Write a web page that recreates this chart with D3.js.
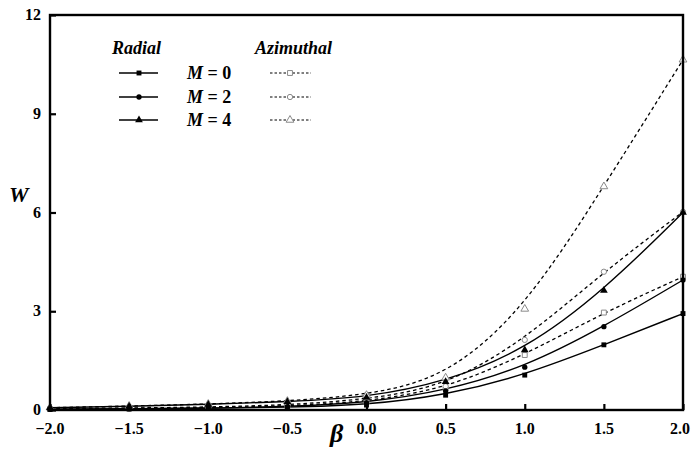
<!DOCTYPE html>
<html>
<head>
<meta charset="utf-8">
<script src="https://cdn.jsdelivr.net/npm/d3@7"></script>
<style>
  body { margin: 0; background: #fff; }
  svg text { font-family: "Times New Roman", "Liberation Serif", "DejaVu Serif", serif; font-weight: 700; }
</style>
</head>
<body>
<svg id="chart" width="692" height="450"></svg>
<script>
// beta values along the x axis
const betas = [ -2.0, -1.5, -1.0, -0.5, 0.0, 0.5, 1.0, 1.5, 2.0 ];

// W values
const radialM0 = [ 0.02, 0.03, 0.05, 0.08, 0.15, 0.45, 1.06, 1.98, 2.93 ];
const radialM2 = [ 0.02, 0.04, 0.06, 0.10, 0.22, 0.58, 1.30, 2.53, 3.95 ];
const radialM4 = [ 0.07, 0.11, 0.17, 0.25, 0.38, 0.86, 1.82, 3.63, 6.00 ];
const azimM0 = [ 0.03, 0.05, 0.07, 0.12, 0.25, 0.65, 1.67, 2.96, 4.05 ];
const azimM2 = [ 0.04, 0.06, 0.09, 0.15, 0.32, 0.72, 2.13, 4.20, 6.02 ];
const azimM4 = [ 0.07, 0.12, 0.18, 0.27, 0.45, 0.98, 3.07, 6.79, 10.64 ];

const xTicks = [ -2.0, -1.5, -1.0, -0.5, 0.0, 0.5, 1.0, 1.5, 2.0 ];
const yTicks = [ 0, 3, 6, 9, 12 ];
const mLabels = [ 'M = 0', 'M = 2', 'M = 4' ];

const series = [
  { values: radialM0, kind: 'radial', marker: 'square' },
  { values: radialM2, kind: 'radial', marker: 'circle' },
  { values: radialM4, kind: 'radial', marker: 'triangle' },
  { values: azimM0, kind: 'azim', marker: 'square' },
  { values: azimM2, kind: 'azim', marker: 'circle' },
  { values: azimM4, kind: 'azim', marker: 'triangle' }
];

const svg = d3.select('#chart');
const fontFamily = '"Times New Roman", "Liberation Serif", "DejaVu Serif", serif';
const plotLeft = 50, plotRight = 683, plotTop = 15, plotBottom = 410;

const xScale = d3.scaleLinear().domain([ -2, 2 ]).range([ plotLeft, plotRight ]);
const yScale = d3.scaleLinear().domain([ 0, 12 ]).range([ plotBottom, plotTop ]);

const symbolType = { square: d3.symbolSquare, circle: d3.symbolCircle, triangle: d3.symbolTriangle };
const symbolSize = { square: 24, circle: 22, triangle: 26 };

// curves
const line = d3.line()
  .x((d, i) => xScale(betas[i]))
  .y((d) => yScale(d))
  .curve(d3.curveBasis);

const plot = svg.append('g');
series.forEach((s) => {
  plot.append('path')
    .attr('d', line(s.values))
    .attr('fill', 'none')
    .attr('stroke', '#000')
    .attr('stroke-width', s.kind === 'radial' ? 1.4 : 1.3)
    .attr('stroke-dasharray', s.kind === 'radial' ? null : '3.5,3');
});

// markers (azimuthal first so filled ones sit on top)
[ ...series.slice(3), ...series.slice(0, 3) ].forEach((s) => {
  plot.selectAll(null)
    .data(s.values)
    .enter()
    .append('path')
    .attr('d', d3.symbol().type(symbolType[s.marker]).size(symbolSize[s.marker]))
    .attr('transform', (d, i) => `translate(${xScale(betas[i])},${yScale(d)})`)
    .attr('fill', s.kind === 'radial' ? '#000' : '#fff')
    .attr('stroke', s.kind === 'radial' ? 'none' : '#8a8a8a')
    .attr('stroke-width', 1);
});

// axes with inward ticks
const xAxis = d3.axisTop(xScale).tickValues(xTicks).tickSize(6).tickFormat('');
const yAxis = d3.axisRight(yScale).tickValues(yTicks).tickSize(6).tickFormat('');
svg.append('g').attr('transform', `translate(0,${plotBottom})`).call(xAxis)
  .call((g) => g.select('.domain').remove())
  .selectAll('line').attr('stroke-width', 2.2);
svg.append('g').attr('transform', `translate(${plotLeft},0)`).call(yAxis)
  .call((g) => g.select('.domain').remove())
  .selectAll('line').attr('stroke-width', 2.2);

// frame
svg.append('rect')
  .attr('x', plotLeft).attr('y', plotTop)
  .attr('width', plotRight - plotLeft).attr('height', plotBottom - plotTop)
  .attr('fill', 'none').attr('stroke', '#000').attr('stroke-width', 2.4);

// tick labels (last one pulled in so it stays inside the window)
svg.selectAll('.xlab')
  .data(xTicks)
  .enter()
  .append('text')
  .attr('font-family', fontFamily)
  .attr('x', (d, i) => i === xTicks.length - 1 ? 690 : xScale(d))
  .attr('y', 434)
  .attr('text-anchor', (d, i) => i === xTicks.length - 1 ? 'end' : 'middle')
  .attr('font-size', 16)
  .text((d) => d3.format('.1f')(d));

svg.selectAll('.ylab')
  .data(yTicks)
  .enter()
  .append('text')
  .attr('font-family', fontFamily)
  .attr('x', 41)
  .attr('y', (d) => yScale(d) + 5)
  .attr('text-anchor', 'end')
  .attr('font-size', 16)
  .text((d) => d);

// axis titles
svg.append('text').attr('font-family', fontFamily).attr('x', 9).attr('y', 202)
  .attr('font-size', 22).attr('font-style', 'italic').text('W');
svg.append('text').attr('font-family', fontFamily).attr('x', 330).attr('y', 442)
  .attr('font-size', 26).attr('font-style', 'italic').attr('font-weight', 'normal').text('β');

// legend
const legend = svg.append('g').attr('font-family', fontFamily);
legend.append('text').attr('x', 112).attr('y', 54)
  .attr('font-size', 18).attr('font-style', 'italic').text('Radial');
legend.append('text').attr('x', 255).attr('y', 54)
  .attr('font-size', 18).attr('font-style', 'italic').text('Azimuthal');

const rowY = [ 73, 97, 120 ];
series.slice(0, 3).forEach((s, i) => {
  legend.append('line')
    .attr('x1', 119).attr('x2', 158).attr('y1', rowY[i]).attr('y2', rowY[i])
    .attr('stroke', '#000').attr('stroke-width', 1.4);
  legend.append('path')
    .attr('d', d3.symbol().type(symbolType[s.marker]).size(symbolSize[s.marker]))
    .attr('transform', `translate(139,${rowY[i]})`)
    .attr('fill', '#000');
  const t = legend.append('text')
    .attr('x', 187).attr('y', rowY[i] + 6)
    .attr('font-size', 18);
  t.append('tspan').attr('font-style', 'italic').text(mLabels[i].slice(0, 1));
  t.append('tspan').text(mLabels[i].slice(1));
});
series.slice(3).forEach((s, i) => {
  legend.append('line')
    .attr('x1', 270).attr('x2', 311).attr('y1', rowY[i]).attr('y2', rowY[i])
    .attr('stroke', '#000').attr('stroke-width', 1).attr('stroke-dasharray', '2.5,2');
  legend.append('path')
    .attr('d', d3.symbol().type(symbolType[s.marker]).size(symbolSize[s.marker]))
    .attr('transform', `translate(290,${rowY[i]})`)
    .attr('fill', '#fff').attr('stroke', '#8a8a8a');
});
</script>
</body>
</html>
